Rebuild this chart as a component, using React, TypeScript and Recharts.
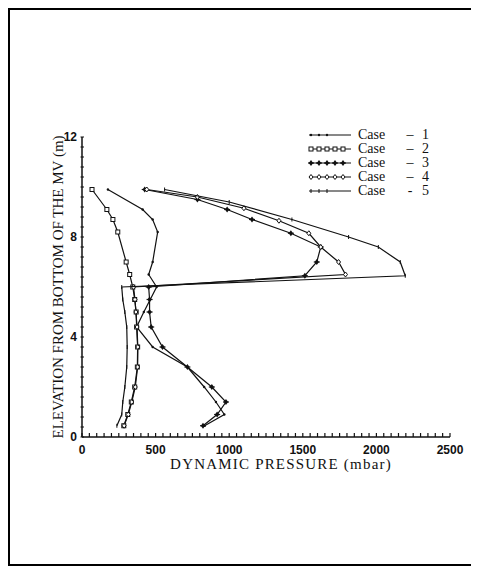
import React from 'react';
import { ScatterChart, Scatter, XAxis, YAxis } from 'recharts';

// elevation (m) and dynamic pressure (mbar)
const case1Elev = [9.9, 9.1, 8.7, 8.2, 7.0, 6.5, 6.0, 5.0, 4.4, 3.6, 2.8, 2.0, 1.4, 0.9, 0.45];
const case1Pres = [176, 412, 480, 514, 480, 453, 507, 420, 371, 480, 716, 830, 910, 967, 833];

const case2Elev = [9.9, 9.1, 8.7, 8.2, 7.0, 6.5, 6.0, 5.5, 5.0, 4.4, 3.6, 2.8, 2.0, 1.4, 0.9, 0.45];
const case2Pres = [68, 169, 210, 243, 300, 324, 345, 358, 368, 371, 378, 376, 358, 335, 311, 284];

const case3Elev = [9.9, 9.5, 9.1, 8.7, 8.15, 7.6, 7.0, 6.45, 6.0, 5.5, 5.0, 4.4, 3.6, 2.8, 2.0, 1.4, 0.9, 0.45];
const case3Pres = [426, 784, 986, 1155, 1419, 1622, 1595, 1514, 453, 459, 459, 470, 547, 716, 882, 978, 918, 822];

const case4Elev = [9.9, 9.6, 9.15, 8.65, 8.15, 7.6, 7.0, 6.5, 6.0, 5.5, 5.0, 4.4, 3.6, 2.8, 2.0, 1.4, 0.9, 0.45];
const case4Pres = [440, 784, 1100, 1338, 1541, 1622, 1743, 1790, 350, 360, 366, 374, 379, 378, 362, 338, 314, 286];

const case5Elev = [9.9, 9.4, 8.7, 8.0, 7.6, 7.0, 6.45, 6.0, 5.5, 5.0, 4.4, 3.6, 2.8, 2.0, 1.4, 0.9, 0.45];
const case5Pres = [561, 1000, 1426, 1811, 2013, 2162, 2196, 270, 277, 291, 304, 307, 304, 291, 277, 270, 237];

const caseNames = ['1', '2', '3', '4', '5'];
const xMajorTicks = [0, 500, 1000, 1500, 2000, 2500];
const yMajorTicks = [0, 4, 8, 12];

const xTicks = Array.from({ length: 51 }, (_, i) => i * 50);
const yTicks = Array.from({ length: 31 }, (_, i) => Math.round(i * 4) / 10);

const toPoints = (elev: number[], pres: number[]) => elev.map((e, i) => ({ e, p: pres[i] }));

const INK = '#111';
const serif = '"Liberation Serif", "DejaVu Serif", serif';
const sans = '"Liberation Sans", Arial, sans-serif';

const drawMarker = (kind: number, cx: number, cy: number, key?: any) => {
  switch (kind) {
    case 0:
      return <circle key={key} cx={cx} cy={cy} r={1.2} fill={INK} />;
    case 1:
      return <rect key={key} x={cx - 2} y={cy - 2} width={4} height={4} fill="#fff" stroke={INK} strokeWidth={1} />;
    case 2:
      return (
        <g key={key}>
          <path d={`M${cx},${cy - 3}L${cx + 2.2},${cy}L${cx},${cy + 3}L${cx - 2.2},${cy}Z`} fill={INK} />
          <line x1={cx - 3} x2={cx + 3} y1={cy} y2={cy} stroke={INK} strokeWidth={1.2} />
        </g>
      );
    case 3:
      return <path key={key} d={`M${cx},${cy - 2.5}L${cx + 2},${cy}L${cx},${cy + 2.5}L${cx - 2},${cy}Z`} fill="#fff" stroke={INK} strokeWidth={1} />;
    default:
      return <line key={key} x1={cx} x2={cx} y1={cy - 2} y2={cy + 2} stroke={INK} strokeWidth={1} />;
  }
};

const shapeFor = (kind: number) => (props: any) => drawMarker(kind, props.cx, props.cy);

const XTick = (props: any) => {
  const { x, y, payload } = props;
  const major = xMajorTicks.includes(payload.value);
  return (
    <g>
      <line x1={x} x2={x} y1={y} y2={y - 4} stroke={INK} strokeWidth={1.2} />
      {major && (
        <text x={x} y={y + 17} textAnchor="middle" fontFamily={sans} fontWeight="bold" fontSize={12} fill={INK}>
          {payload.value}
        </text>
      )}
    </g>
  );
};

const YTick = (props: any) => {
  const { x, y, payload } = props;
  const major = yMajorTicks.includes(payload.value);
  return (
    <g>
      <line x1={x - 1.5} x2={x + 2} y1={y} y2={y} stroke={INK} strokeWidth={1} />
      {major && (
        <text x={x - 5} y={y + 4} textAnchor="end" fontFamily={sans} fontWeight="bold" fontSize={12} fill={INK}>
          {payload.value}
        </text>
      )}
    </g>
  );
};

const ChartLegend = () => (
  <div style={{ position: 'absolute', top: 118, left: 298, fontFamily: serif, fontSize: 14, color: INK, lineHeight: '14px' }}>
    {caseNames.map((n, i) => (
      <div key={n} style={{ display: 'flex', alignItems: 'center', height: 14 }}>
        <svg width={44} height={10} style={{ marginRight: 6 }}>
          <line x1={1} x2={43} y1={5} y2={5} stroke={INK} strokeWidth={1} />
          {[3, 11, 19, 27, 35].map((px, j) => ((i === 0 || i === 4) && j > 2 ? null : drawMarker(i, px, 5, j)))}
        </svg>
        <span style={{ width: 40 }}>Case</span>
        <span style={{ width: 24, textAlign: 'center' }}>{i === 4 ? '-' : '–'}</span>
        <span>{n}</span>
      </div>
    ))}
  </div>
);

const series = [
  toPoints(case1Elev, case1Pres),
  toPoints(case2Elev, case2Pres),
  toPoints(case3Elev, case3Pres),
  toPoints(case4Elev, case4Pres),
  toPoints(case5Elev, case5Pres),
];

export default function App() {
  return (
    <div style={{ width: 462, height: 554, border: '2px solid #000', background: '#fff', position: 'relative' }}>
      <ScatterChart width={462} height={554} margin={{ top: 127, right: 22, bottom: 97, left: 42 }}>
        <XAxis
          type="number"
          dataKey="p"
          domain={[0, 2500]}
          ticks={xTicks}
          interval={0}
          tick={<XTick />}
          tickLine={false}
          tickSize={0}
          tickMargin={0}
          height={30}
          axisLine={{ stroke: INK, strokeWidth: 1.5 }}
          label={{
            value: 'DYNAMIC PRESSURE (mbar)',
            position: 'center',
            dx: 15,
            dy: 12,
            fill: INK,
            fontFamily: serif,
            fontSize: 15,
            letterSpacing: 1.2,
          }}
        />
        <YAxis
          type="number"
          dataKey="e"
          domain={[0, 12]}
          ticks={yTicks}
          interval={0}
          tick={<YTick />}
          tickLine={false}
          tickSize={0}
          tickMargin={0}
          width={30}
          axisLine={{ stroke: INK, strokeWidth: 1.5 }}
          label={{
            value: 'ELEVATION FROM BOTTOM OF THE MV (m)',
            angle: -90,
            position: 'center',
            dx: -9,
            fill: INK,
            fontFamily: serif,
            fontSize: 15,
          }}
        />
        {series.map((data, i) => (
          <Scatter
            key={i}
            name={`Case - ${caseNames[i]}`}
            data={data}
            line={{ stroke: INK, strokeWidth: 1.2 }}
            lineType="joint"
            shape={shapeFor(i)}
            isAnimationActive={false}
          />
        ))}
      </ScatterChart>
      <ChartLegend />
    </div>
  );
}
